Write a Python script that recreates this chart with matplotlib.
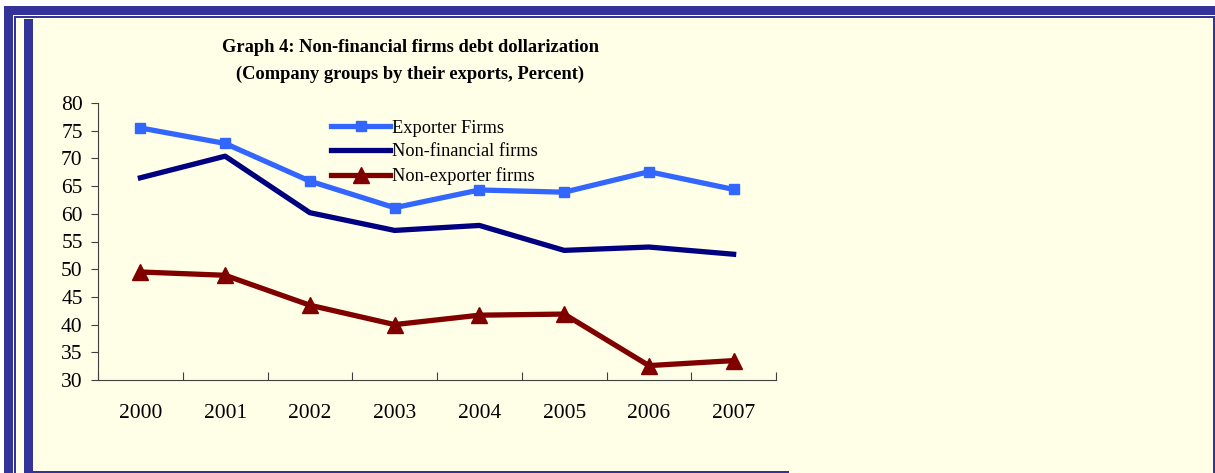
import numpy as np
import matplotlib
matplotlib.use("Agg")
import matplotlib.pyplot as plt
from matplotlib.patches import Rectangle

# data
years = ["2000", "2001", "2002", "2003", "2004", "2005", "2006", "2007"]
exporter = [75.5, 72.7, 65.9, 61.1, 64.3, 63.9, 67.6, 64.4]
non_financial = [66.5, 70.4, 60.2, 57.0, 57.9, 53.4, 54.0, 52.7]
non_exporter = [49.5, 48.9, 43.5, 40.0, 41.7, 41.9, 32.6, 33.5]

W, H = 1215, 473
bg = "#FFFFE8"
frame = "#333399"

plt.rcParams["font.family"] = ["Liberation Serif", "DejaVu Serif"]

fig = plt.figure(figsize=(W / 100, H / 100), dpi=100)
fig.patch.set_facecolor("white")

def px_rect(x0, y0, x1, y1, color, z=0):
    # rectangle in pixel coords, y measured from top
    fig.patches.append(Rectangle((x0 / W, 1 - y1 / H), (x1 - x0) / W, (y1 - y0) / H,
                                 transform=fig.transFigure, facecolor=color,
                                 edgecolor="none", zorder=z))

# frame
px_rect(14, 16, W, H, frame)
px_rect(16, 18, 1213, 471, bg)
px_rect(16, 18, 24, H, bg)
px_rect(4, 6, W, 15, frame)
px_rect(4, 6, 13, H, frame)
px_rect(13, 15, 14, H, "white")
px_rect(24, 19, 33, H, frame)
px_rect(789, 471, 1213, H, bg)

ax = fig.add_axes([98 / W, 1 - 380 / H, (776 - 98) / W, (380 - 103) / H])
ax.set_facecolor("none")
ax.set_zorder(5)

x = np.arange(len(years))
ax.plot(x, exporter, color="#3366FF", lw=3.8, marker="s", ms=7, label="Exporter Firms")
ax.plot(x, non_financial, color="#000080", lw=3.8, label="Non-financial firms")
ax.plot(x, non_exporter, color="#800000", lw=3.8, marker="^", ms=12, label="Non-exporter firms")

ax.set_xlim(-0.5, len(years) - 0.5)
ax.set_ylim(30, 80)
ax.set_yticks(np.arange(30, 81, 5))
ax.set_xticks(np.arange(-0.5, len(years), 1))
ax.set_xticklabels([])
ax.set_xticks(x, minor=True)
ax.set_xticklabels(years, minor=True)
ax.tick_params(axis="x", which="minor", length=0, pad=17, labelsize=15.5)
ax.tick_params(axis="x", which="major", length=6, direction="in", color="#404040")
ax.tick_params(axis="y", length=5, direction="out", labelsize=15.5, pad=6, color="#404040")
for s in ["top", "right"]:
    ax.spines[s].set_visible(False)
for s in ["left", "bottom"]:
    ax.spines[s].set_color("#404040")

leg = ax.legend(loc="upper left", bbox_to_anchor=(0.32, 1.0), frameon=False,
                fontsize=13.2, handlelength=3.2, handletextpad=0.1, labelspacing=0.37)

fig.text(410 / W, 1 - 48 / H, "Graph 4: Non-financial firms debt dollarization",
         ha="center", va="center", fontsize=13.3, fontweight="bold")
fig.text(410 / W, 1 - 74 / H, "(Company groups by their exports, Percent)",
         ha="center", va="center", fontsize=13.3, fontweight="bold")

fig.savefig("out.png", dpi=100, facecolor=fig.get_facecolor())
